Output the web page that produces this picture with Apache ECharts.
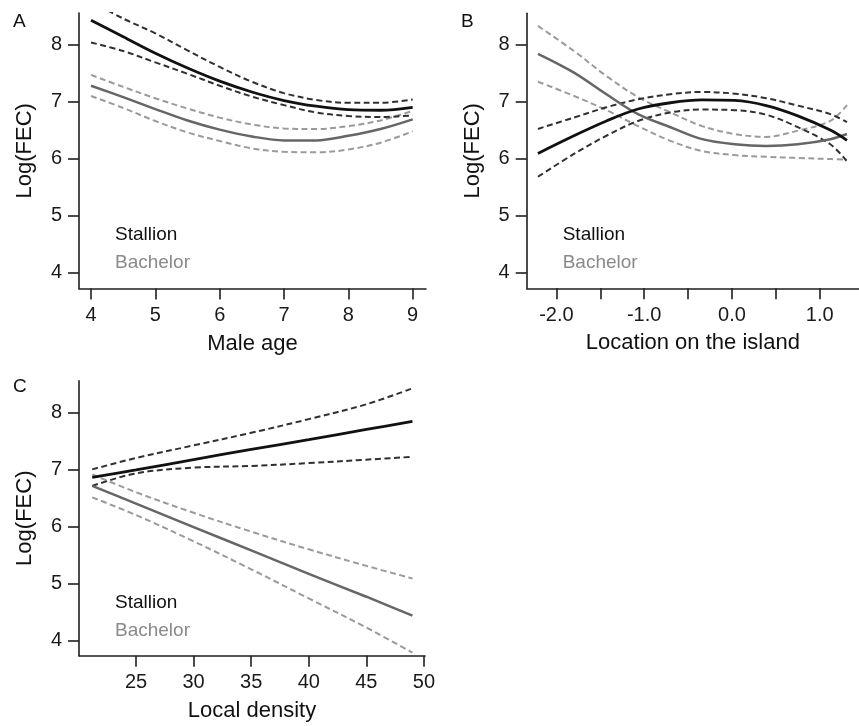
<!DOCTYPE html>
<html><head><meta charset="utf-8">
<script src="https://cdn.jsdelivr.net/npm/echarts@6/dist/echarts.min.js"></script>
<style>html,body{margin:0;padding:0;background:#fff}#c{width:859px;height:726px}</style>
</head><body><div id="c"></div>
<script>
// ---------- Data ----------
// Panel A: Male age
const ageX = [4.0, 4.5, 5.0, 5.5, 6.0, 6.5, 7.0, 7.5, 8.0, 8.5, 9.0];
const ageStallionFit   = [8.43, 8.14, 7.85, 7.59, 7.36, 7.17, 7.02, 6.92, 6.86, 6.85, 6.90];
const ageStallionUpper = [8.76, 8.46, 8.20, 7.90, 7.61, 7.35, 7.15, 7.03, 6.98, 6.98, 7.04];
const ageStallionLower = [8.04, 7.89, 7.69, 7.49, 7.28, 7.09, 6.94, 6.81, 6.75, 6.73, 6.76];
const ageBachelorFit   = [7.28, 7.08, 6.87, 6.67, 6.51, 6.39, 6.32, 6.32, 6.40, 6.52, 6.69];
const ageBachelorUpper = [7.47, 7.26, 7.06, 6.88, 6.72, 6.60, 6.53, 6.52, 6.57, 6.67, 6.84];
const ageBachelorLower = [7.10, 6.89, 6.66, 6.46, 6.31, 6.18, 6.12, 6.11, 6.16, 6.28, 6.48];

// Panel B: Location on the island
const locX = [-2.21, -1.8, -1.43, -1.07, -0.7, -0.34, 0.03, 0.39, 0.75, 1.12, 1.31];
const locStallionFit   = [6.09, 6.40, 6.66, 6.87, 6.98, 7.03, 7.02, 6.93, 6.75, 6.50, 6.32];
const locStallionUpper = [6.52, 6.72, 6.90, 7.04, 7.13, 7.17, 7.14, 7.06, 6.93, 6.78, 6.64];
const locStallionLower = [5.68, 6.08, 6.40, 6.66, 6.81, 6.86, 6.85, 6.77, 6.55, 6.25, 5.95];
const locBachelorFit   = [7.84, 7.51, 7.13, 6.78, 6.55, 6.34, 6.25, 6.22, 6.25, 6.34, 6.43];
const locBachelorUpper = [8.33, 7.89, 7.45, 7.08, 6.81, 6.57, 6.43, 6.38, 6.49, 6.66, 6.94];
const locBachelorLower = [7.35, 7.10, 6.85, 6.57, 6.31, 6.13, 6.06, 6.03, 6.01, 5.99, 5.98];

// Panel C: Local density
const denX = [21.2, 25, 30, 35, 40, 45, 49];
const denStallionFit   = [6.86, 6.99, 7.17, 7.35, 7.52, 7.70, 7.84];
const denStallionUpper = [7.00, 7.20, 7.42, 7.64, 7.88, 8.14, 8.42];
const denStallionLower = [6.71, 6.93, 7.03, 7.06, 7.11, 7.17, 7.22];
const denBachelorFit   = [6.71, 6.40, 5.99, 5.58, 5.17, 4.77, 4.44];
const denBachelorUpper = [6.91, 6.60, 6.24, 5.91, 5.60, 5.31, 5.09];
const denBachelorLower = [6.51, 6.20, 5.74, 5.25, 4.74, 4.23, 3.79];

// Tick values
const yTicks = [4, 5, 6, 7, 8];
const ageTicks = [4, 5, 6, 7, 8, 9];
const locTicks = [-2, -1.5, -1, -0.5, 0, 0.5, 1];
const locLabels = [-2, -1, 0, 1];
const denTicks = [25, 30, 35, 40, 45, 50];

const panelLetters = ['A', 'B', 'C'];
const legendNames = ['Stallion', 'Bachelor'];
const yTitle = 'Log(FEC)';
const xTitles = ['Male age', 'Location on the island', 'Local density'];

// ---------- Chart ----------
const FONT = 'Liberation Sans, Arial, sans-serif';
const AX = '#1e1e1e';
const chart = echarts.init(document.getElementById('c'), null, {renderer: 'canvas'});

function pairs(xs, ys) { return xs.map((x, i) => [x, ys[i]]); }

function yAxisCfg(gi, min, max) {
  return {
    type: 'value', gridIndex: gi, min: min, max: max, position: 'left',
    name: yTitle, nameLocation: 'middle', nameGap: 43, nameRotate: 90,
    nameTextStyle: {fontSize: 22, color: '#111', fontFamily: FONT},
    axisLine: {show: true, onZero: false, lineStyle: {color: AX, width: 1.6}},
    axisTick: {show: true, inside: false, length: 11, customValues: yTicks, lineStyle: {color: AX, width: 1.6}},
    axisLabel: {customValues: yTicks, fontSize: 20, color: '#1a1a1a', margin: 17, fontFamily: FONT},
    splitLine: {show: false}
  };
}
function xAxisCfg(gi, min, max, name, ticks, labels, fmt) {
  return {
    type: 'value', gridIndex: gi, min: min, max: max, position: 'bottom',
    name: name, nameLocation: 'middle', nameGap: 44,
    nameTextStyle: {fontSize: 22, color: '#111', fontFamily: FONT},
    axisLine: {show: true, onZero: false, lineStyle: {color: AX, width: 1.6}},
    axisTick: {show: true, inside: false, length: 11, customValues: ticks, lineStyle: {color: AX, width: 1.6}},
    axisLabel: {customValues: labels, fontSize: 20, color: '#1a1a1a', margin: 17, fontFamily: FONT, formatter: fmt},
    splitLine: {show: false}
  };
}

const STY = {
  sFit:  {color: '#111111', width: 2.8, type: 'solid'},
  sCI:   {color: '#303030', width: 2.0, type: [6, 3.5]},
  bFit:  {color: '#666666', width: 2.5, type: 'solid'},
  bCI:   {color: '#9a9a9a', width: 2.0, type: [6, 3.5]}
};
function line(gi, xs, ys, sty) {
  return {
    type: 'line', xAxisIndex: gi, yAxisIndex: gi, data: pairs(xs, ys),
    smooth: 0.35, symbol: 'none', clip: true, silent: true, animation: false,
    lineStyle: sty, z: sty === STY.sFit ? 5 : (sty === STY.bFit ? 4 : 3)
  };
}

const series = [
  line(0, ageX, ageBachelorUpper, STY.bCI), line(0, ageX, ageBachelorLower, STY.bCI), line(0, ageX, ageBachelorFit, STY.bFit),
  line(0, ageX, ageStallionUpper, STY.sCI), line(0, ageX, ageStallionLower, STY.sCI), line(0, ageX, ageStallionFit, STY.sFit),
  line(1, locX, locBachelorUpper, STY.bCI), line(1, locX, locBachelorLower, STY.bCI), line(1, locX, locBachelorFit, STY.bFit),
  line(1, locX, locStallionUpper, STY.sCI), line(1, locX, locStallionLower, STY.sCI), line(1, locX, locStallionFit, STY.sFit),
  line(2, denX, denBachelorUpper, STY.bCI), line(2, denX, denBachelorLower, STY.bCI), line(2, denX, denBachelorFit, STY.bFit),
  line(2, denX, denStallionUpper, STY.sCI), line(2, denX, denStallionLower, STY.sCI), line(2, denX, denStallionFit, STY.sFit)
];

function txt(x, y, s, size, fill) {
  return {type: 'text', x: x, y: y, silent: true,
    style: {text: s, font: size + 'px ' + FONT, fill: fill, align: 'left', verticalAlign: 'middle'}};
}
const graphics = [
  txt(13, 21.5, panelLetters[0], 19, '#111'),
  txt(461, 21.5, panelLetters[1], 19, '#111'),
  txt(13, 387, panelLetters[2], 19, '#111'),
  txt(115, 235, legendNames[0], 19, '#111'),
  txt(115, 263, legendNames[1], 19, '#8a8a8a'),
  txt(562.7, 235, legendNames[0], 19, '#111'),
  txt(562.7, 263, legendNames[1], 19, '#8a8a8a'),
  txt(115, 603, legendNames[0], 19, '#111'),
  txt(115, 631, legendNames[1], 19, '#8a8a8a')
];

chart.setOption({
  backgroundColor: '#ffffff',
  animation: false,
  grid: [
    {left: 79, top: 13, width: 347, height: 275.5},
    {left: 526.7, top: 13.3, width: 347, height: 275},
    {left: 79, top: 380.7, width: 346, height: 275}
  ],
  xAxis: [
    xAxisCfg(0, 3.813, 9.207, xTitles[0], ageTicks, ageTicks, v => String(v)),
    xAxisCfg(1, -2.338, 1.447, xTitles[1], locTicks, locLabels, v => Number(v).toFixed(1)),
    xAxisCfg(2, 20.05, 50.09, xTitles[2], denTicks, denTicks, v => String(v))
  ],
  yAxis: [
    yAxisCfg(0, 3.72, 8.557),
    yAxisCfg(1, 3.719, 8.552),
    yAxisCfg(2, 3.737, 8.553)
  ],
  series: series,
  graphic: graphics
});
</script>
</body></html>
